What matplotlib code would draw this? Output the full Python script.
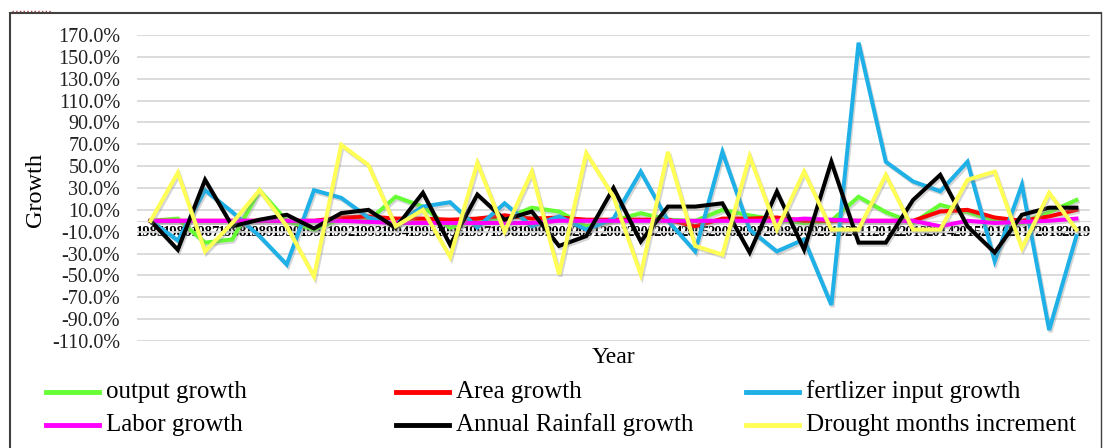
import matplotlib
matplotlib.use("Agg")
import matplotlib.pyplot as plt
import matplotlib.patheffects as pe
from matplotlib.lines import Line2D
from matplotlib.ticker import FuncFormatter, FixedLocator

years = [str(y) for y in range(1985, 2020)]

output_growth = [0, 2, -20, -17, 28, 0, -8, 2, 0, 22, 13, -6.5, 2, 2, 12, 8.5, -5, 0, 7, 1,
                 0, 10, 5, 1, -2, 0, 22, 8, -2, 14.6, 8, 0, -2, 8, 19]
area_growth = [0, 0, 0, 0, 0, 0, 0, 3, 4, 2, 2, 1, 2, 5, 2, 3, 1, 1, 1, 1,
               -5, 2, 2, 3, 0, 0, 0, 0, 0, 8.5, 10, 3, 0, 4, 10]
fertilizer_growth = [0, -18, 28, 8, -14, -40, 28, 21, 3, -3, 13, 17, -6, 16, -5, 4, -8, 2, 45, 0,
                     -28, 63, -8, -28, -17, -77, 163, 54, 36, 27, 54, -37, 33, -100, -14]
labor_growth = [0, 0, 0, 0, 0, 0, 0, 0, -1, -2, -2, -2, -2, -2, -2, 0, 0, 0, 0, 0,
                0, 0, 0, 0, 2, 1, 0, 0, 0, -5, 0, -2, -1, 0, 2]
rainfall_growth = [0, -26.5, 37.5, -5, 1, 5.5, -7, 7, 10, -6.5, 25.6, -22, 24, 1, 8.5, -23, -14, 30, -19, 13,
                   13, 16, -29, 26.8, -26.5, 54, -20, -20, 19, 42, -5, -29, 5.5, 12, 12]
drought_increment = [0, 44, -28, -2, 28, -5, -51, 69.5, 51, -5, 10, -33, 53, -10, 45, -49, 62, 22, -49, 63,
                     -23, -31, 59, -8, 45, -8, -8, 42, -8, -8, 37.5, 45, -25, 25.6, -8]

series_names = ["output growth", "Area growth", "fertlizer input growth",
                "Labor growth", "Annual Rainfall growth", "Drought months increment"]
series_values = [output_growth, area_growth, fertilizer_growth,
                 labor_growth, rainfall_growth, drought_increment]
colors = ["#66FF33", "#FF0000", "#1EB0E6", "#FF00FF", "#000000", "#FFFF55"]

plt.rcParams['font.family'] = ['Liberation Serif', 'DejaVu Serif']

W, H = 1103, 448
fig = plt.figure(figsize=(W / 100, H / 100), dpi=100)
ax = fig.add_axes([137 / W, 1 - 341 / H, (1090 - 137) / W, (341 - 35) / H])

x = list(range(len(years)))
shadow = [pe.SimpleLineShadow(offset=(1, -1.5), shadow_color='#888888', alpha=0.35), pe.Normal()]
for vals, c in zip(series_values, colors):
    ax.plot(x, vals, color=c, lw=2.9, solid_joinstyle='miter', zorder=3, path_effects=shadow)

ax.set_xlim(-0.5, len(years) - 0.5)
ax.set_ylim(-110, 170)
ax.yaxis.set_major_locator(FixedLocator(list(range(-110, 171, 20))))
ax.yaxis.set_major_formatter(FuncFormatter(lambda v, p: f"{v:.1f}%"))
ax.grid(axis='y', color='#D9D9D9', lw=1.3, zorder=0)
ax.set_axisbelow(True)
for s in ['top', 'right', 'left']:
    ax.spines[s].set_visible(False)
ax.spines['bottom'].set_position(('data', 0))
ax.spines['bottom'].set_color('#D9D9D9')
ax.spines['bottom'].set_zorder(1)
ax.set_xticks(x)
ax.set_xticklabels(years, fontsize=10.5, fontweight='bold')
ax.tick_params(axis='x', length=0, pad=4)
ax.tick_params(axis='y', length=0, pad=12, labelsize=14.5)
for lab in ax.get_yticklabels():
    lab.set_color('#222222')

fig.text(35 / W, 1 - 190 / H, "Growth", rotation=90, fontsize=17.5, ha='center', va='center')
fig.text(613 / W, 1 - 357 / H, "Year", fontsize=17, ha='center', va='center')

# legend
col_x = [46, 396, 746]
row_y = [392, 425]
for i, (name, c) in enumerate(zip(series_names, colors)):
    r, col = divmod(i, 3)
    yy = 1 - row_y[r] / H
    x0 = col_x[col] / W
    fig.add_artist(Line2D([x0, x0 + 53 / W], [yy, yy], color=c, lw=3.5,
                          transform=fig.transFigure))
    fig.text(x0 + 60 / W, yy, name, fontsize=18, ha='left', va='center')

# border
fig.add_artist(Line2D([10 / W, 10 / W], [0, 1 - 13 / H], color='#404040', lw=1.5,
                      transform=fig.transFigure))
fig.add_artist(Line2D([10 / W, 1101 / W], [1 - 13 / H, 1 - 13 / H], color='#404040', lw=1.5,
                      transform=fig.transFigure))
fig.add_artist(Line2D([1101 / W, 1101 / W], [0, 1 - 13 / H], color='#404040', lw=1.0,
                      transform=fig.transFigure))
fig.add_artist(Line2D([12 / W, 52 / W], [1 - 11 / H, 1 - 11 / H], color='#A04040', lw=1.0,
                      ls=':', transform=fig.transFigure))

fig.savefig("out.png", dpi=100)
